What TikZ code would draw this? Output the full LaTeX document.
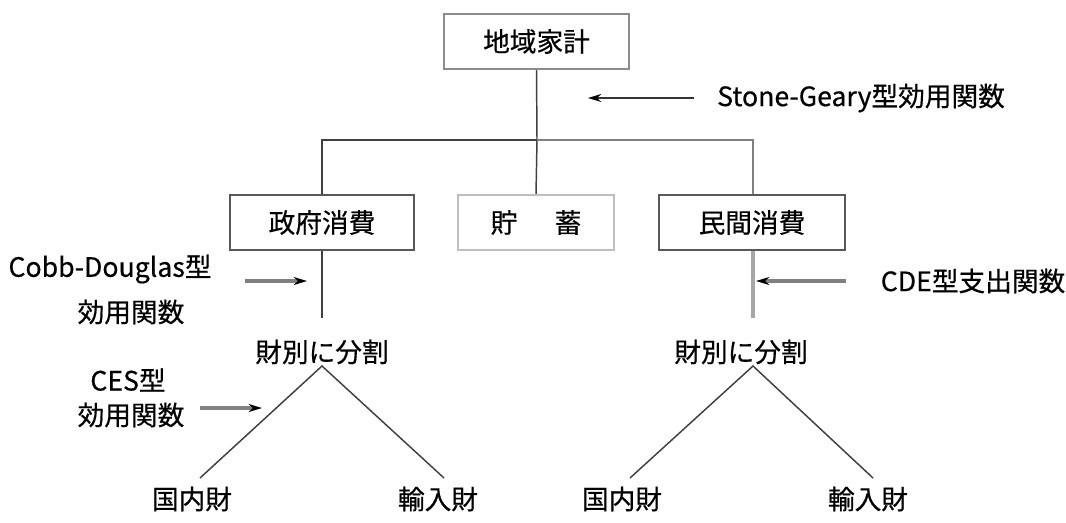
\documentclass[tikz,border=0pt]{standalone}
\usepackage{fontspec}
\setmainfont{Noto Sans CJK JP}[FakeBold=0.5]
\usetikzlibrary{arrows.meta}
\begin{document}
\begin{tikzpicture}[x=0.75pt,y=-0.75pt,
  every node/.style={font=\fontsize{20}{23}\selectfont, inner sep=1pt},
  box/.style={draw=#1, line width=1.3pt, minimum height=41.5pt},
  conn/.style={draw=black!75, line width=1.1pt},
  lconn/.style={draw=black!35, line width=2.4pt},
  arr/.style={draw=black!50, line width=2.4pt, -{Stealth[length=10pt,width=6pt,color=black]}},
  darr/.style={draw=black!80, line width=1.1pt, -{Stealth[length=10pt,width=6pt,color=black]}},
  lbl/.style={anchor=center}
]
\useasboundingbox (0,0) rectangle (1066,522);
% boxes
\node[box=black!45, minimum width=138.75pt] (top) at (536.5,41.5) {地域家計};
\node[box=black!65, minimum width=138pt] (gov) at (322,222.5) {政府消費};
\node[box=black!25, minimum width=117pt] (sav) at (536,222.5) {貯\hspace{1.4em}蓄};
\node[box=black!65, minimum width=139.5pt] (priv) at (752,222.5) {民間消費};
% junctions
\coordinate (jc) at (537,140);
\coordinate (jl) at (322,140);
\coordinate (jr) at (753,140);
\draw[conn] (top.south) -- (jc) -- (sav.north);
\draw[conn] (gov.north) -- (jl) -- (jc);
\draw[conn, draw=black!50] (jc) -- (jr) -- (priv.north -| jr);
% split nodes
\node (gsplit) at (322,352) {財別に分割};
\node (psplit) at (741,352) {財別に分割};
\coordinate (gtop) at (322,318);
\coordinate (ptop) at (753,318);
\draw[conn] (gov.south) -- (gtop);
\draw[lconn] (priv.south -| ptop) -- (ptop);
% apexes
\coordinate (ga) at (322,366);
\coordinate (pa) at (753,366);
% leaves
\node (gd) at (192,499) {国内財};
\node (gi) at (438,499) {輸入財};
\node (pd) at (622,499) {国内財};
\node (pi) at (868,499) {輸入財};
\coordinate (gdl) at (200,478);
\coordinate (gil) at (444,478);
\coordinate (pdl) at (630,478);
\coordinate (pil) at (873,478);
\draw[conn] (gdl) -- (ga) -- (gil);
\draw[conn] (pdl) -- (pa) -- (pil);
% labels and arrows
\node (sg) at (861,98) {Stone-Geary型効用関数};
\coordinate (sga) at (588,98);
\draw[darr] (sg.west) ++(-22,0) -- (sga);
\node (cd1) at (110,269) {Cobb-Douglas型};
\node (cd2) at (131,312) {効用関数};
\coordinate (cds) at (245,281);
\coordinate (cda) at (307,281);
\draw[arr] (cds) -- (cda);
\node (ces1) at (128,380) {CES型};
\node (ces2) at (131,415) {効用関数};
\coordinate (cess) at (200,408);
\coordinate (cesa) at (262,408);
\draw[arr] (cess) -- (cesa);
\node (cde) at (973,281) {CDE型支出関数};
\coordinate (cdes) at (846,281);
\coordinate (cdea) at (756,281);
\draw[arr] (cdes) -- (cdea);
\end{tikzpicture}
\end{document}
